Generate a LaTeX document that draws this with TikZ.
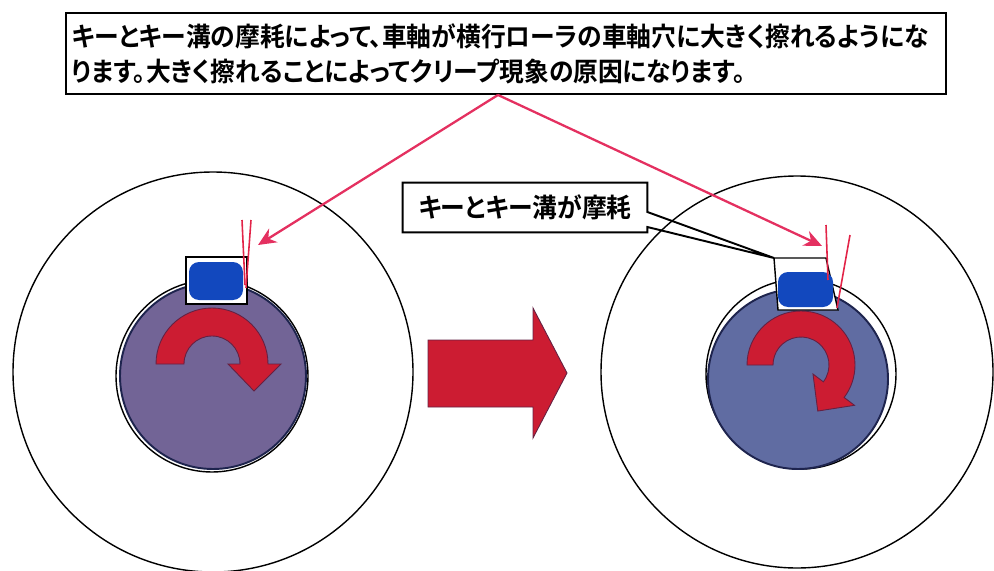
\documentclass[tikz,border=0pt]{standalone}
\usepackage{fontspec}
\usetikzlibrary{calc,arrows.meta}

\newfontfamily\jpfont[BoldFont={* Bold},RawFeature=+palt,FakeStretch=0.94]{Noto Sans CJK JP}

\definecolor{shaftpurple}{RGB}{114,100,150}
\definecolor{shaftblue}{RGB}{96,108,162}
\definecolor{edgenavy}{RGB}{30,36,78}
\definecolor{keyblue}{RGB}{18,72,190}
\definecolor{turnred}{RGB}{204,28,50}
\definecolor{wearred}{RGB}{226,36,72}
\definecolor{pointred}{RGB}{228,48,96}

\begin{document}
\begin{tikzpicture}[x=0.2mm, y=0.2mm,
  notebox/.style={fill=white, inner sep=0pt, font=\jpfont\bfseries\fontsize{15}{20}\selectfont},
  ring/.style={draw=black, line width=0.8pt},
  shaft/.style={draw=edgenavy, line width=1.1pt},
  keyway/.style={draw=black, fill=white, line width=0.8pt},
  keyblock/.style={fill=keyblue, rounded corners=2mm},
  wear/.style={draw=wearred, line width=0.9pt},
  turn/.style={fill=turnred, draw=edgenavy!60!turnred, line width=0.5pt},
  pointer/.style={draw=pointred, line width=1.3pt, -{Stealth[length=3.6mm,width=3.2mm]}}]
  \useasboundingbox (0,0) rectangle (994,-571);

  % before: new key sits tight in the keyway
  \draw[ring] (213,-372) circle[radius=200];
  \filldraw[ring, fill=white] (212,-376) circle[radius=96];
  \filldraw[shaft, fill=shaftpurple] (213,-376) circle[radius=93];
  \draw[keyway] (186,-257) rectangle (247,-304);
  \fill[keyblock] (189,-262) rectangle (243,-300);
  \draw[wear] (242,-220) -- (245,-285);
  \draw[wear] (251,-220) -- (246,-288);
  \coordinate (oldgap) at (258,-245);
  \begin{scope}[shift={(212,-364)}]
    \filldraw[turn] (180:56) arc[start angle=180, end angle=0, radius=56]
      -- (0:69) -- (42,-27) -- (0:16) -- (0:28)
      arc[start angle=0, end angle=180, radius=28] -- cycle;
  \end{scope}

  % big arrow between the two states
  \filldraw[turn] (428,-340) -- (533,-340) -- (533,-308) -- (567,-373)
    -- (533,-438) -- (533,-407) -- (428,-407) -- cycle;

  % after: worn key and keyway, shaft rattles in the bore
  \draw[ring] (797,-372) circle[radius=196];
  \filldraw[ring, fill=white] (801,-374) circle[radius=95];
  \filldraw[shaft, fill=shaftblue] (798,-379) circle[radius=90];
  \draw[keyway] (774,-258) -- (826,-258) -- (838,-310) -- (778,-310) -- cycle;
  \fill[keyblock] (778,-272) rectangle (833,-307);
  \draw[wear] (826,-225) -- (828,-280);
  \draw[wear] (850,-235) -- (837,-308);
  \coordinate (kwtip) at (774,-258);
  \coordinate (newgap) at (822,-246);
  \begin{scope}[shift={(801,-365)}]
    \filldraw[turn] (180:54) arc[start angle=180, end angle=-37, radius=54]
      -- (-37:67) -- (-70:49) -- (-37:15) -- (-37:28)
      arc[start angle=-37, end angle=180, radius=28] -- cycle;
  \end{scope}

  % callout on the worn keyway
  \node[notebox, minimum width=48.8mm, minimum height=9.8mm] (worn) at (525,-207.5) {キーとキー溝が摩耗};
  \draw[line width=1.1pt] (worn.north west) -- (worn.north east) -- ([yshift=-0.9mm]worn.east)
    -- (kwtip) -- ([yshift=-3.9mm]worn.east) -- (worn.south east) -- (worn.south west) -- cycle;

  % explanation on top
  \node[notebox, draw, line width=1.1pt, minimum width=176mm, minimum height=16.2mm,
    text width=173.6mm, align=left] (note) at (506,-53.5)
    {キーとキー溝の摩耗によって、車軸が横行ローラの車軸穴に大きく擦れるようにな\\
     ります。大きく擦れることによってクリープ現象の原因になります。};

  \draw[pointer] ([xshift=-1.6mm]note.south) -- (oldgap);
  \draw[pointer] ([xshift=-1.6mm]note.south) -- (newgap);
\end{tikzpicture}
\end{document}
